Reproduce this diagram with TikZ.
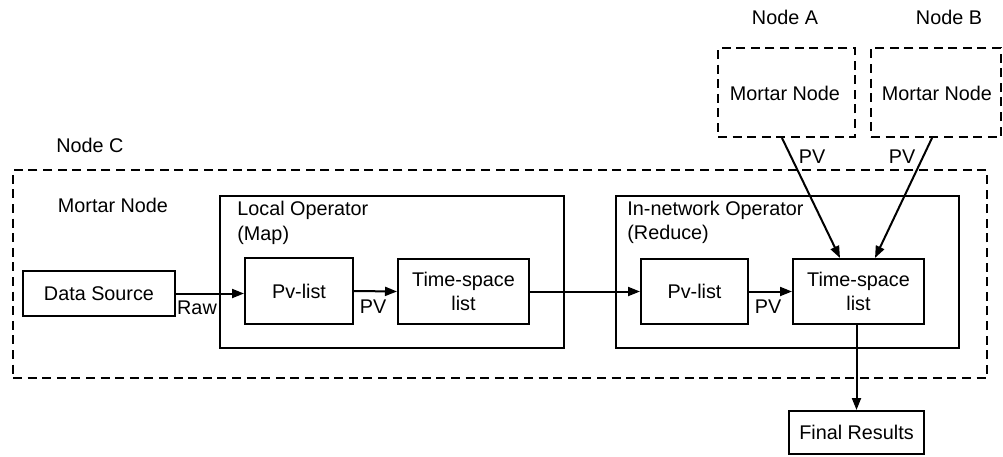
\documentclass[tikz,border=0pt]{standalone}
\usepackage{fontspec}
\setmainfont{Liberation Sans}
\usetikzlibrary{arrows.meta}
\begin{document}
\begin{tikzpicture}[x=0.5pt,y=-0.5pt,
  every node/.style={font=\fontsize{9.9}{11.8}\selectfont, inner sep=0pt},
  box/.style={draw, line width=1pt, align=center},
  dashbox/.style={draw, line width=1pt, dash pattern=on 4.5pt off 2.8pt},
  lbl/.style={anchor=center},
  arr/.style={line width=1pt, -{Triangle[length=6pt,width=4.5pt]}}]
\useasboundingbox (0,0) rectangle (1003,456);

% peer mortar nodes and the local one
\node[dashbox, minimum width=68.5pt, minimum height=44.5pt] (A) at (786.5,92.5) {};
\node[dashbox, minimum width=65pt, minimum height=44.5pt] (B) at (936,92.5) {};
\node[dashbox, minimum width=487pt, minimum height=104pt] (C) at (500,274) {};
\node[lbl] (tA) at (785,17) {Node A};
\node[lbl] (tB) at (949,17) {Node B};
\node[lbl] (tC) at (90,145) {Node C};
\node[lbl] (mA) at (785,93) {Mortar Node};
\node[lbl] (mB) at (937,93) {Mortar Node};
\node[lbl] (mC) at (113,205) {Mortar Node};

% operator frames
\node[box, minimum width=172pt, minimum height=76pt] (loc) at (392,272) {};
\node[box, minimum width=171.5pt, minimum height=76pt] (inn) at (787.5,272) {};
\node[anchor=west, align=left, font=\fontsize{9.9}{12.5}\selectfont] (locT) at (237,223) {Local Operator\\(Map)};
\node[anchor=west, align=left, font=\fontsize{9.9}{12}\selectfont] (innT) at (627,222.5) {In-network Operator\\(Reduce)};

% processing stages
\node[box, minimum width=76pt, minimum height=22.5pt] (ds) at (99,293.5) {Data Source};
\node[box, minimum width=54pt, minimum height=33pt] (pv1) at (299,291) {Pv-list};
\node[box, minimum width=65.5pt, minimum height=32.5pt] (ts1) at (463.5,291.5) {Time-space\\list};
\node[box, minimum width=53.5pt, minimum height=32.5pt] (pv2) at (694.5,291.5) {Pv-list};
\node[box, minimum width=65.5pt, minimum height=32.5pt] (ts2) at (858.5,291.5) {Time-space\\list};
\node[box, minimum width=67.5pt, minimum height=21.5pt] (fin) at (856.5,432.5) {Final Results};

% data flow
\draw[arr] (ds.east) -- (ds.east -| pv1.west);
\draw[arr] (pv1.east) -- (ts1.west);
\draw[arr] (ts1.east) -- (ts1.east -| pv2.west);
\draw[arr] (pv2.east) -- (ts2.west);
\draw[arr] ([xshift=-1pt]ts2.south) -- ([xshift=-1pt]ts2.south |- fin.north);
\draw[arr] ([xshift=-2.25pt]A.south) -- ([xshift=-9.25pt]ts2.north);
\draw[arr] ([xshift=-2pt]B.south) -- ([xshift=8.25pt]ts2.north);

% edge labels
\node[lbl] (raw) at (197,308) {Raw};
\node[lbl] (p1) at (373,307) {PV};
\node[lbl] (p2) at (768,307) {PV};
\node[lbl] (p3) at (812,157) {PV};
\node[lbl] (p4) at (902,157) {PV};
\end{tikzpicture}
\end{document}
